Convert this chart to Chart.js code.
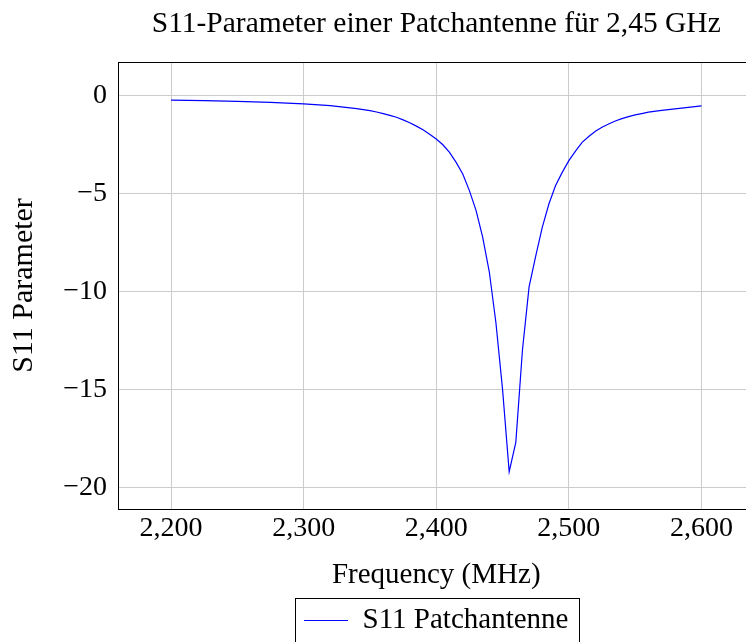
<!DOCTYPE html>
<html lang="de">
<head>
    <meta charset="UTF-8">
    <title>S11-Parameter</title>
    <script src="https://cdn.jsdelivr.net/npm/chart.js"></script>
    <style>
        html, body { margin: 0; padding: 0; background: #fff; overflow: hidden; }
        .wrap { width: 746px; height: 642px; overflow: hidden; position: relative; }
        canvas { position: absolute; left: 0; top: 0; }
    </style>
</head>
<body>
<div class="wrap"><canvas id="grafico" width="760" height="647"></canvas></div>

<script>
    const frequenzen = [2200, 2225, 2250, 2275, 2300, 2320, 2330, 2340, 2345, 2350, 2355, 2360,
        2365, 2370, 2375, 2380, 2385, 2390, 2395, 2400, 2405, 2410, 2415, 2420, 2425, 2430,
        2435, 2440, 2445, 2450, 2455, 2460, 2465, 2470, 2475, 2480, 2485, 2490, 2495, 2500,
        2505, 2510, 2515, 2520, 2525, 2530, 2535, 2540, 2545, 2550, 2555, 2560, 2570, 2580,
        2590, 2600];
    const s11Werte = [-0.24, -0.27, -0.31, -0.36, -0.44, -0.53, -0.60, -0.68, -0.73, -0.78, -0.85, -0.93,
        -1.02, -1.12, -1.25, -1.40, -1.57, -1.76, -1.98, -2.23, -2.52, -2.91, -3.42, -4.01, -4.86, -5.87,
        -7.23, -9.0, -11.6, -15.0, -19.2, -17.7, -13.0, -9.77, -8.2, -6.72, -5.53, -4.6, -3.93, -3.33,
        -2.85, -2.40, -2.10, -1.83, -1.63, -1.46, -1.31, -1.19, -1.09, -1.00, -0.93, -0.86, -0.77, -0.69,
        -0.61, -0.54];
    const ticksX = [2200, 2300, 2400, 2500, 2600];
    const ticksY = [-20, -15, -10, -5, 0];

    const schrift = "'Liberation Serif', 'Times New Roman', serif";

    // Rahmen um Plotbereich und Legende
    const rahmen = {
        id: 'rahmen',
        afterDraw(chart) {
            const {ctx, chartArea: a} = chart;
            ctx.save();
            ctx.strokeStyle = '#000';
            ctx.lineWidth = 1;
            ctx.strokeRect(Math.round(a.left) + 0.5, Math.round(a.top) + 0.5,
                Math.round(a.right - a.left), Math.round(a.bottom - a.top));
            const hb = chart.legend.legendHitBoxes[0];
            if (hb) {
                ctx.strokeRect(Math.round(hb.left - 9) + 0.5, Math.round(hb.top - 8) + 0.5,
                    Math.round(hb.width + 20), 80);
            }
            ctx.restore();
        }
    };

    const ctx = document.getElementById('grafico').getContext('2d');
    new Chart(ctx, {
        type: 'line',
        data: {
            datasets: [{
                label: 'S11 Patchantenne',
                data: frequenzen.map((f, i) => ({x: f, y: s11Werte[i]})),
                borderColor: '#0000ff',
                backgroundColor: '#0000ff',
                borderWidth: 1.2,
                pointRadius: 0,
                tension: 0,
                fill: false
            }]
        },
        options: {
            responsive: false,
            animation: false,
            layout: {padding: {right: 5.5, left: 0, top: 0, bottom: 2}},
            plugins: {
                title: {
                    display: true,
                    text: 'S11-Parameter einer Patchantenne für 2,45 GHz',
                    color: '#000',
                    fullSize: false,
                    font: {family: schrift, size: 29.5, weight: 'normal'},
                    padding: {top: 7, bottom: 19.6}
                },
                legend: {
                    position: 'bottom',
                    fullSize: false,
                    labels: {
                        color: '#000',
                        font: {family: schrift, size: 29},
                        usePointStyle: true,
                        pointStyle: 'line',
                        pointStyleWidth: 44,
                        padding: 13
                    }
                },
                tooltip: {enabled: false}
            },
            scales: {
                x: {
                    type: 'linear',
                    min: 2160,
                    max: 2640,
                    afterBuildTicks: s => { s.ticks = ticksX.map(v => ({value: v})); },
                    afterFit: s => { s.height = 84; },
                    grid: {color: '#cccccc', drawTicks: false},
                    border: {display: true, color: '#000'},
                    ticks: {
                        color: '#000',
                        padding: 3,
                        maxRotation: 0,
                        font: {family: schrift, size: 28},
                        callback: v => v.toLocaleString('en-US')
                    },
                    title: {
                        display: true,
                        text: 'Frequency (MHz)',
                        color: '#000',
                        font: {family: schrift, size: 29},
                        padding: 0
                    }
                },
                y: {
                    min: -21.1,
                    max: 1.7,
                    afterBuildTicks: s => { s.ticks = ticksY.map(v => ({value: v})); },
                    afterFit: s => { s.width = 118; },
                    grid: {color: '#cccccc', drawTicks: false},
                    border: {display: true, color: '#000'},
                    ticks: {
                        color: '#000',
                        padding: 11,
                        font: {family: schrift, size: 28},
                        callback: v => String(v).replace('-', '\u2212')
                    },
                    title: {
                        display: true,
                        text: 'S11 Parameter',
                        color: '#000',
                        font: {family: schrift, size: 30},
                        padding: {top: 6, bottom: 0}
                    }
                }
            }
        },
        plugins: [rahmen]
    });
</script>
</body>
</html>
